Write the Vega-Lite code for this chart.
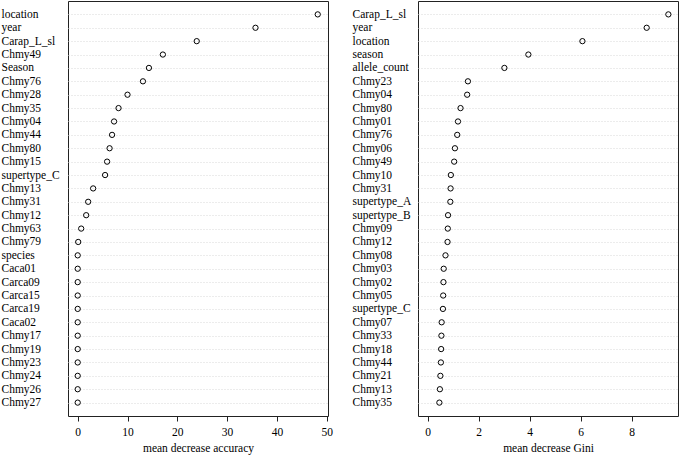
{
  "$schema": "https://vega.github.io/schema/vega-lite/v6.json",
  "padding": {"left": 0, "top": 0, "right": 0, "bottom": 0},
  "background": "white",
  "config": {
    "font": "Liberation Serif",
    "view": {"stroke": "#222222", "strokeWidth": 1},
    "axis": {"labelFont": "Liberation Serif", "titleFont": "Liberation Serif", "labelColor": "black", "titleColor": "black", "labelFontSize": 11.5, "titleFontSize": 11.5, "titleFontWeight": "normal"}
  },
  "datasets": {
    "acc": [
      {"var": "location", "v": 48.2},
      {"var": "year", "v": 35.7},
      {"var": "Carap_L_sl", "v": 23.9},
      {"var": "Chmy49", "v": 17.1},
      {"var": "Season", "v": 14.3},
      {"var": "Chmy76", "v": 13.1},
      {"var": "Chmy28", "v": 10.0},
      {"var": "Chmy35", "v": 8.2},
      {"var": "Chmy04", "v": 7.3},
      {"var": "Chmy44", "v": 6.9},
      {"var": "Chmy80", "v": 6.4},
      {"var": "Chmy15", "v": 5.9},
      {"var": "supertype_C", "v": 5.5},
      {"var": "Chmy13", "v": 3.1},
      {"var": "Chmy31", "v": 2.1},
      {"var": "Chmy12", "v": 1.7},
      {"var": "Chmy63", "v": 0.7},
      {"var": "Chmy79", "v": 0.1},
      {"var": "species", "v": 0},
      {"var": "Caca01", "v": 0},
      {"var": "Carca09", "v": 0},
      {"var": "Carca15", "v": 0},
      {"var": "Carca19", "v": 0},
      {"var": "Caca02", "v": 0},
      {"var": "Chmy17", "v": 0},
      {"var": "Chmy19", "v": 0},
      {"var": "Chmy23", "v": 0},
      {"var": "Chmy24", "v": 0},
      {"var": "Chmy26", "v": 0},
      {"var": "Chmy27", "v": 0}
    ],
    "gini": [
      {"var": "Carap_L_sl", "v": 9.44},
      {"var": "year", "v": 8.59},
      {"var": "location", "v": 6.07},
      {"var": "season", "v": 3.95},
      {"var": "allele_count", "v": 3.01},
      {"var": "Chmy23", "v": 1.58},
      {"var": "Chmy04", "v": 1.55},
      {"var": "Chmy80", "v": 1.29},
      {"var": "Chmy01", "v": 1.19},
      {"var": "Chmy76", "v": 1.16},
      {"var": "Chmy06", "v": 1.07},
      {"var": "Chmy49", "v": 1.04},
      {"var": "Chmy10", "v": 0.91},
      {"var": "Chmy31", "v": 0.90},
      {"var": "supertype_A", "v": 0.89},
      {"var": "supertype_B", "v": 0.80},
      {"var": "Chmy09", "v": 0.79},
      {"var": "Chmy12", "v": 0.78},
      {"var": "Chmy08", "v": 0.70},
      {"var": "Chmy03", "v": 0.63},
      {"var": "Chmy02", "v": 0.62},
      {"var": "Chmy05", "v": 0.61},
      {"var": "supertype_C", "v": 0.60},
      {"var": "Chmy07", "v": 0.55},
      {"var": "Chmy33", "v": 0.54},
      {"var": "Chmy18", "v": 0.53},
      {"var": "Chmy44", "v": 0.52},
      {"var": "Chmy21", "v": 0.50},
      {"var": "Chmy13", "v": 0.48},
      {"var": "Chmy35", "v": 0.46}
    ]
  },
  "spacing": 18,
  "hconcat": [
    {
      "width": 260,
      "height": 415,
      "data": {"name": "acc"},
      "mark": {"type": "point", "shape": "circle", "filled": false, "stroke": "black", "strokeWidth": 1, "size": 28, "opacity": 1},
      "encoding": {
        "x": {"field": "v", "type": "quantitative", "title": "mean decrease accuracy",
          "scale": {"domain": [-1.95, 50.26], "nice": false, "zero": false},
          "axis": {"values": [0, 10, 20, 30, 40, 50], "grid": false, "domain": false, "tickColor": "#222222", "tickSize": 5, "labelPadding": 5, "titlePadding": 5, "labelFlush": false}},
        "y": {"field": "var", "type": "nominal", "sort": null, "title": null,
          "scale": {"type": "point", "padding": 1},
          "axis": {"ticks": false, "domain": false, "grid": true, "gridColor": "#d8d8d8", "gridDash": [1, 2], "gridWidth": 1, "labelAlign": "left", "labelPadding": 67, "labelBaseline": "middle"}}
      }
    },
    {
      "width": 260,
      "height": 415,
      "data": {"name": "gini"},
      "mark": {"type": "point", "shape": "circle", "filled": false, "stroke": "black", "strokeWidth": 1, "size": 28, "opacity": 1},
      "encoding": {
        "x": {"field": "v", "type": "quantitative", "title": "mean decrease Gini",
          "scale": {"domain": [-0.378, 9.818], "nice": false, "zero": false},
          "axis": {"values": [0, 2, 4, 6, 8], "grid": false, "domain": false, "tickColor": "#222222", "tickSize": 5, "labelPadding": 5, "titlePadding": 5, "labelFlush": false}},
        "y": {"field": "var", "type": "nominal", "sort": null, "title": null,
          "scale": {"type": "point", "padding": 1},
          "axis": {"ticks": false, "domain": false, "grid": true, "gridColor": "#d8d8d8", "gridDash": [1, 2], "gridWidth": 1, "labelAlign": "left", "labelPadding": 66, "labelBaseline": "middle"}}
      }
    }
  ]
}
